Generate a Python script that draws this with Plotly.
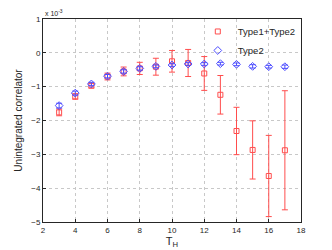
import plotly.graph_objects as go

# values in units of 1e-3
t_h = [3, 4, 5, 6, 7, 8, 9, 10, 11, 12, 13, 14, 15, 16, 17]
type12 = [-1.76, -1.29, -0.97, -0.70, -0.55, -0.46, -0.41, -0.25, -0.30, -0.61, -1.24, -2.31, -2.87, -3.64, -2.88]
type12_err = [0.10, 0.08, 0.07, 0.10, 0.13, 0.18, 0.25, 0.32, 0.40, 0.50, 0.57, 0.70, 0.86, 1.20, 1.76]
type2 = [-1.56, -1.19, -0.92, -0.69, -0.55, -0.46, -0.40, -0.36, -0.33, -0.33, -0.32, -0.34, -0.40, -0.41, -0.41]
type2_err = [0.07, 0.06, 0.05, 0.05, 0.05, 0.05, 0.04, 0.04, 0.04, 0.04, 0.04, 0.04, 0.05, 0.04, 0.05]
series_names = ["Type1+Type2", "Type2"]

red = "#ff4d4d"
blue = "#4d4dff"

fig = go.Figure()
fig.add_trace(go.Scatter(
    x=t_h, y=type12, mode="markers", name=series_names[0],
    marker=dict(symbol="square-open", size=5, color=red, line=dict(width=1)),
    error_y=dict(type="data", array=type12_err, color=red, thickness=1, width=3),
))
fig.add_trace(go.Scatter(
    x=t_h, y=type2, mode="markers", name=series_names[1],
    marker=dict(symbol="diamond-open", size=6, color=blue, line=dict(width=1)),
    error_y=dict(type="data", array=type2_err, color=blue, thickness=1, width=3),
))

axis_common = dict(
    showline=True, linecolor="#262626", linewidth=1, mirror=True,
    ticks="inside", ticklen=3, tickcolor="#262626",
    showgrid=True, gridcolor="#c8c8c8", griddash="dot", gridwidth=1,
    zeroline=False, tickfont=dict(size=8, color="#262626"),
)

fig.update_layout(
    width=332, height=250, autosize=False,
    margin=dict(l=43, r=31, t=19, b=28, pad=0, autoexpand=False),
    paper_bgcolor="white", plot_bgcolor="white",
    font=dict(family="Liberation Sans, Arial, sans-serif", color="#262626"),
    showlegend=True,
    legend=dict(x=0.6, y=1.01, xanchor="left", yanchor="top",
                bgcolor="rgba(0,0,0,0)", font=dict(size=9.5, color="#262626"),
                orientation="v", tracegroupgap=0),
    xaxis=dict(range=[2, 18], tickvals=[2, 4, 6, 8, 10, 12, 14, 16, 18],
               title=dict(text="T<sub>H</sub>", font=dict(size=11, color="#262626"), standoff=0),
               **axis_common),
    yaxis=dict(range=[-5, 1], tickvals=[-5, -4, -3, -2, -1, 0, 1],
               title=dict(text="Unintegrated correlator", font=dict(size=10, color="#262626"), standoff=6),
               **axis_common),
)
fig.add_annotation(text="x 10<sup>-3</sup>", xref="paper", yref="paper", x=0.0, y=1.0,
                   xanchor="left", yanchor="bottom", showarrow=False,
                   font=dict(size=7, color="#262626"))

fig.write_html("out.html", config={"displayModeBar": False},
               post_script="document.body.style.margin='0';")
